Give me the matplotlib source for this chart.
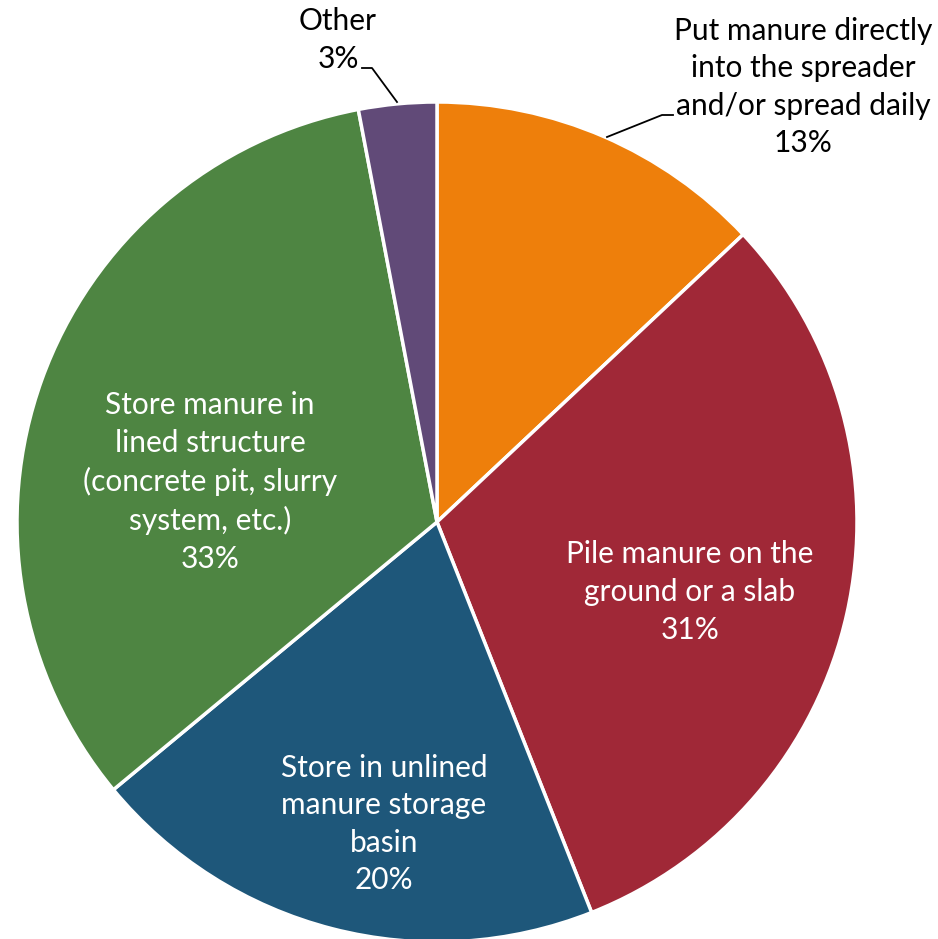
import matplotlib
matplotlib.use("Agg")
import matplotlib.pyplot as plt
import numpy as np

categories = [
    "Put manure directly\ninto the spreader\nand/or spread daily",
    "Pile manure on the\nground or a slab",
    "Store in unlined\nmanure storage\nbasin",
    "Store manure in\nlined structure\n(concrete pit, slurry\nsystem, etc.)",
    "Other",
]
values = [13, 31, 20, 33, 3]
colors = ["#EE7F0B", "#A02837", "#1E577A", "#4E8542", "#614A78"]

W, H = 938, 939
fig = plt.figure(figsize=(W / 100, H / 100), dpi=100)
ax = fig.add_axes([0, 0, 1, 1])

cx, cy, R = 437, H - 522, 420
wedges, _ = ax.pie(values, colors=colors, startangle=90, counterclock=False,
                   center=(cx, cy), radius=R,
                   wedgeprops=dict(edgecolor="white", linewidth=2.5))
ax.set_xlim(0, W)
ax.set_ylim(0, H)
ax.set_aspect("equal")
ax.axis("off")

FONT = "Lato"
FS = 21.5
labels = [f"{c}\n{v}%" for c, v in zip(categories, values)]

# label layout: (x, y in pixel coords from top, color)
layout = [
    (803, 87, "black"),
    (690, 592, "white"),
    (384, 824, "white"),
    (210, 482, "white"),
    (338, 40, "black"),
]
for lab, (x, y, col) in zip(labels, layout):
    ax.text(x, H - y, lab, ha="center", va="center", color=col,
            fontsize=FS, family=FONT, linespacing=1.42)

# leader lines
ax.plot([607, 662, 673], [H - 137, H - 115, H - 115], color="black", lw=1.3)
ax.plot([397, 372, 362], [H - 102, H - 68, H - 68], color="black", lw=1.3)

fig.savefig("out.png", dpi=100)
